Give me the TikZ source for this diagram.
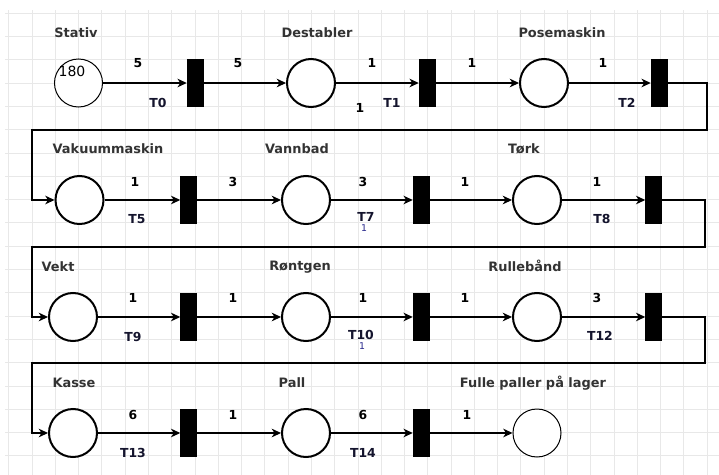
\documentclass[tikz,border=0pt]{standalone}
\usepackage{fontspec}
\setmainfont{DejaVu Sans}
\usetikzlibrary{arrows.meta}
\definecolor{gridc}{RGB}{232,232,232}
\definecolor{lbl}{RGB}{51,51,51}
\definecolor{tlc}{RGB}{20,20,45}
\definecolor{stray}{RGB}{40,40,140}
\begin{document}
\begin{tikzpicture}[x=0.75pt,y=-0.75pt,
 place/.style={circle,draw,fill=white,line width=1.5pt,minimum size=36pt,inner sep=0pt},
 thinplace/.style={place,line width=0.75pt},
 trans/.style={rectangle,fill=black,draw=black,minimum width=12pt,minimum height=35pt,inner sep=0pt},
 arc/.style={-{Stealth[length=7pt,width=6.5pt,inset=2.2pt]},line width=0.8pt},
 pname/.style={font=\bfseries\fontsize{9.7}{11}\selectfont,text=lbl,inner sep=0pt},
 wt/.style={font=\bfseries\fontsize{9.3}{10}\selectfont,inner sep=0pt},
 tl/.style={font=\bfseries\fontsize{9.3}{10}\selectfont,text=tlc,inner sep=0pt},
 strayl/.style={font=\fontsize{7}{8}\selectfont,text=stray,inner sep=0pt}]

\fill[white] (0,0) rectangle (719,475);
\useasboundingbox (0,0) rectangle (719,475);
\foreach \i in {-1,...,29} {\draw[gridc,line width=0.6pt] ({32+\i*23.28},10) -- ({32+\i*23.28},475);}
\foreach \j in {-3,...,16} {\draw[gridc,line width=0.6pt] (5,{83+\j*23.3}) -- (719,{83+\j*23.3});}

% places
\node[thinplace] (stativ) at (78.5,83) {};
\node[place] (destabler) at (311,83) {};
\node[place] (pose) at (544,83) {};
\node[place] (vakuum) at (79.5,200) {};
\node[place] (vannbad) at (306,200) {};
\node[place] (tork) at (537,200) {};
\node[place] (vekt) at (73,317) {};
\node[place] (rontgen) at (306,317) {};
\node[place] (rulle) at (537,317) {};
\node[place] (kasse) at (73,433) {};
\node[place] (pall) at (306,433) {};
\node[thinplace] (fulle) at (537,433) {};

% transitions
\node[trans] (t0) at (195,83) {};
\node[trans] (t1) at (427,83) {};
\node[trans] (t2) at (659,83) {};
\node[trans] (t5) at (188.5,200) {};
\node[trans] (t7) at (421,200) {};
\node[trans] (t8) at (653.5,200) {};
\node[trans] (t9) at (188.5,317) {};
\node[trans] (t10) at (421,317) {};
\node[trans] (t12) at (653.5,317) {};
\node[trans] (t13) at (188.5,433) {};
\node[trans] (t14) at (421,433) {};

% bend coordinates
\coordinate (a1) at (707,83);
\coordinate (a2) at (707,130);
\coordinate (a3) at (32,130);
\coordinate (a4) at (32,200);
\coordinate (b1) at (705,200);
\coordinate (b2) at (705,247);
\coordinate (b3) at (32,247);
\coordinate (b4) at (32,317);
\coordinate (c1) at (705,317);
\coordinate (c2) at (705,363);
\coordinate (c3) at (32,363);
\coordinate (c4) at (32,433);

% arcs
\draw[arc] (stativ) -- (t0);
\draw[arc] (t0) -- (destabler);
\draw[arc] (destabler) -- (t1);
\draw[arc] (t1) -- (pose);
\draw[arc] (pose) -- (t2);
\draw[arc] (t2.east) -- (a1) -- (a2) -- (a3) -- (a4) -- (vakuum.west);
\draw[arc] (vakuum) -- (t5);
\draw[arc] (t5) -- (vannbad);
\draw[arc] (vannbad) -- (t7);
\draw[arc] (t7) -- (tork);
\draw[arc] (tork) -- (t8);
\draw[arc] (t8.east) -- (b1) -- (b2) -- (b3) -- (b4) -- (vekt.west);
\draw[arc] (vekt) -- (t9);
\draw[arc] (t9) -- (rontgen);
\draw[arc] (rontgen) -- (t10);
\draw[arc] (t10) -- (rulle);
\draw[arc] (rulle) -- (t12);
\draw[arc] (t12.east) -- (c1) -- (c2) -- (c3) -- (c4) -- (kasse.west);
\draw[arc] (kasse) -- (t13);
\draw[arc] (t13) -- (pall);
\draw[arc] (pall) -- (t14);
\draw[arc] (t14) -- (fulle);

% place names
\node[pname] (l1) at (76,33) {Stativ};
\node[pname] (l2) at (317,33) {Destabler};
\node[pname] (l3) at (562,33) {Posemaskin};
\node[pname] (l4) at (108,149) {Vakuummaskin};
\node[pname] (l5) at (297,149) {Vannbad};
\node[pname] (l6) at (524,149) {Tørk};
\node[pname] (l7) at (58,267) {Vekt};
\node[pname] (l8) at (300,267) {Røntgen};
\node[pname] (l9) at (525,266) {Rullebånd};
\node[pname] (l10) at (74,383) {Kasse};
\node[pname] (l11) at (292,383) {Pall};
\node[pname] (l12) at (533,383) {Fulle paller på lager};

% tokens
\node[font=\fontsize{10.5}{12}\selectfont,inner sep=0pt] (tok) at (72,71) {180};

% weights
\node[wt] (w1) at (138,63) {5};
\node[wt] (w2) at (238,63) {5};
\node[wt] (w3) at (372,63) {1};
\node[wt] (w4) at (472,63) {1};
\node[wt] (w5) at (603,63) {1};
\node[wt] (w6) at (135,182) {1};
\node[wt] (w7) at (233,182) {3};
\node[wt] (w8) at (363,182) {3};
\node[wt] (w9) at (465,182) {1};
\node[wt] (w10) at (597,182) {1};
\node[wt] (w11) at (133,298) {1};
\node[wt] (w12) at (233,298) {1};
\node[wt] (w13) at (363,298) {1};
\node[wt] (w14) at (465,298) {1};
\node[wt] (w15) at (597,298) {3};
\node[wt] (w16) at (133,415) {6};
\node[wt] (w17) at (233,415) {1};
\node[wt] (w18) at (363,415) {6};
\node[wt] (w19) at (467,415) {1};
\node[wt] (w20) at (360,108) {1};

% transition labels
\node[tl] (lt0) at (158,103) {T0};
\node[tl] (lt1) at (392,103) {T1};
\node[tl] (lt2) at (627,103) {T2};
\node[tl] (lt5) at (137,219) {T5};
\node[tl] (lt7) at (366,217) {T7};
\node[tl] (lt8) at (602,219) {T8};
\node[tl] (lt9) at (133,337) {T9};
\node[tl] (lt10) at (361,335) {T10};
\node[tl] (lt12) at (600,336) {T12};
\node[tl] (lt13) at (133,453) {T13};
\node[tl] (lt14) at (363,453) {T14};
\node[strayl] (s1) at (364,228) {1};
\node[strayl] (s2) at (362,346) {1};
\end{tikzpicture}
\end{document}
